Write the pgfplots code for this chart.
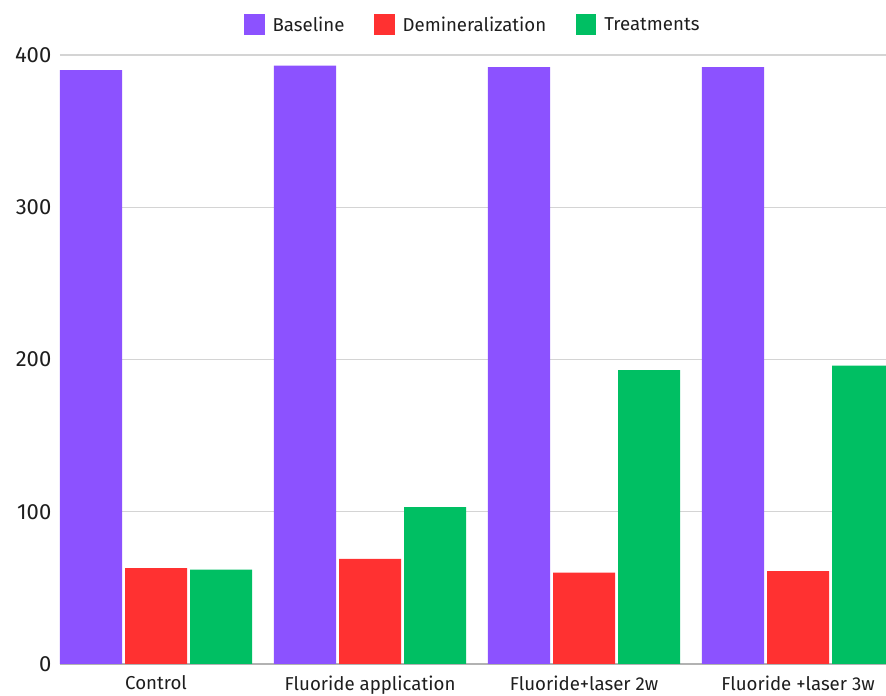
\documentclass[border=0pt]{standalone}
\usepackage{fontspec}
\setmainfont{Fira Sans}
\usepackage{pgfplots}
\pgfplotsset{compat=1.18}
\definecolor{cBase}{HTML}{8C52FF}
\definecolor{cDem}{HTML}{FF3131}
\definecolor{cTre}{HTML}{00BF63}
\definecolor{txt}{HTML}{1E1E1E}
\begin{document}
\begin{tikzpicture}
\begin{axis}[
  name=ax,
  scale only axis,
  width=619.5pt, height=456.75pt,
  xmin=-0.449, xmax=3.411,
  ymin=0, ymax=400,
  ybar=2.25pt,
  bar width=0.29,
  xtick={0,1,2,3},
  xticklabels={Control,Fluoride application,Fluoride+laser 2w,Fluoride +laser 3w},
  ytick={0,100,200,300,400},
  /pgf/number format/assume math mode=true,
  tick style={draw=none},
  axis x line*=bottom,
  axis y line*=left,
  y axis line style={draw=none},
  x axis line style={draw=black!30, line width=1pt},
  ymajorgrids,
  grid style={draw=black!17, line width=0.8pt},
  xticklabel style={font=\fontsize{14}{16}\selectfont, text=txt, yshift=-1pt},
  yticklabel style={font=\fontsize{16.5}{18}\selectfont, text=txt, xshift=-3pt},
  legend style={
    at={(0.5,1)}, anchor=south, yshift=12pt,
    draw=none, fill=none,
    legend columns=-1,
    font=\fontsize{14}{16}\selectfont, text=txt,
    /tikz/every even column/.append style={column sep=20pt},
    /tikz/every odd column/.append style={column sep=4pt},
  },
  legend image code/.code={\fill[#1] (0pt,-7.5pt) rectangle (15.5pt,8pt);},
]
\addplot[fill=cBase, draw=none] coordinates {(0,390) (1,393) (2,392) (3,392)};
\addplot[fill=cDem, draw=none] coordinates {(0,63) (1,69) (2,60) (3,61)};
\addplot[fill=cTre, draw=none] coordinates {(0,62) (1,103) (2,193) (3,196)};
\legend{Baseline,Demineralization,Treatments}
\end{axis}
\pgfresetboundingbox
\path ([xshift=-45pt,yshift=-24pt]ax.south west) rectangle ([yshift=41.25pt]ax.north east);
\end{tikzpicture}
\end{document}
